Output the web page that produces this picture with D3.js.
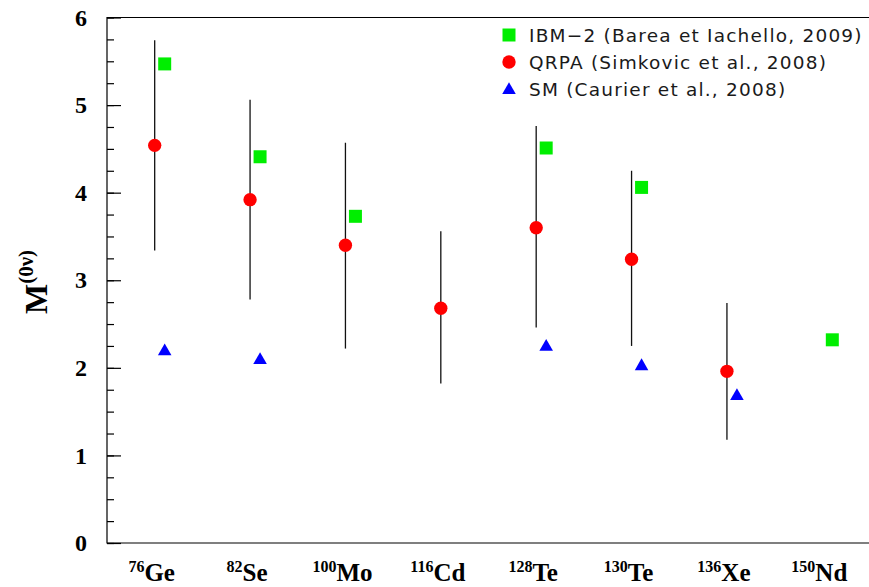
<!DOCTYPE html>
<html>
<head>
<meta charset="utf-8">
<script src="https://cdn.jsdelivr.net/npm/d3@7"></script>
<style>
  body { margin: 0; background: #fff; }
  svg { display: block; }
</style>
</head>
<body>
<div id="chart"></div>
<script>
(function(){
var width = 869,
    height = 587;

// nuclei along the x axis
var massNumbers = ["76", "82", "100", "116", "128", "130", "136", "150"];
var elements = ["Ge", "Se", "Mo", "Cd", "Te", "Te", "Xe", "Nd"];

// matrix elements, null where a model has no value
var ibm2 = [5.47, 4.41, 3.73, null, 4.51, 4.06, null, 2.32];
var qrpa = [4.54, 3.92, 3.40, 2.68, 3.60, 3.24, 1.96, null];
var qrpaLow = [3.34, 2.78, 2.22, 1.82, 2.46, 2.25, 1.18, null];
var qrpaHigh = [5.74, 5.06, 4.57, 3.56, 4.76, 4.25, 2.74, null];
var sm = [2.20, 2.10, null, null, 2.25, 2.03, 1.69, null];

var yTicks = [0, 1, 2, 3, 4, 5, 6];
var legendLabels = ["IBM\u22122 (Barea et Iachello, 2009)", "QRPA (Simkovic et al., 2008)", "SM (Caurier et al., 2008)"];

var green = "#00ee00", red = "#ff0000", blue = "#0000ff";

var svg = d3.select("#chart")
  .append("svg")
  .attr("width", width)
  .attr("height", height);

var x = d3.scaleLinear().domain([0.5, 8.5]).range([107, 870]);
var y = d3.scaleLinear().domain([0, 6]).range([543, 17.5]);
var offset = 10;

// frame
svg.append("path")
  .attr("d", "M" + x(8.5) + "," + y(6) + "H" + x(0.5) + "V" + y(0) + "H" + x(8.5))
  .attr("fill", "none")
  .attr("stroke", "#000")
  .attr("stroke-width", 1.2);

// minor ticks
var minor = svg.append("g")
  .attr("transform", "translate(" + x(0.5) + ",0)")
  .call(d3.axisLeft(y).tickValues(d3.range(0, 6.01, 0.25)).tickSize(-7).tickFormat(""));
minor.select(".domain").remove();

// major ticks + labels
var yAxis = svg.append("g")
  .attr("transform", "translate(" + x(0.5) + ",0)")
  .call(d3.axisLeft(y).tickValues(yTicks).tickSize(-14).tickPadding(20).tickFormat(d3.format("d")));
yAxis.select(".domain").remove();
yAxis.selectAll("text")
  .style("font-family", "'Liberation Serif', 'Times New Roman', serif")
  .style("font-weight", "bold")
  .style("font-size", "24px")
  .attr("fill", "#000");
svg.selectAll(".tick line").attr("stroke", "#000").attr("stroke-width", 1.2);

// y title
var yTitle = svg.append("text")
  .attr("transform", "translate(47,282) rotate(-90)")
  .attr("text-anchor", "middle")
  .style("font-family", "'Liberation Serif', 'Times New Roman', serif")
  .style("font-weight", "bold");
yTitle.append("tspan").style("font-size", "32px").text("M");
yTitle.append("tspan").style("font-size", "21px").attr("dy", -14).text("(0\u03bd)");

// x labels
var xl = svg.selectAll(".xlabel")
  .data(elements)
  .enter()
  .append("text")
  .attr("class", "xlabel")
  .attr("x", function(d, i) { return x(i + 1) - 3; })
  .attr("y", 581)
  .attr("text-anchor", "middle")
  .style("font-family", "'Liberation Serif', 'Times New Roman', serif")
  .style("font-weight", "bold");
xl.append("tspan")
  .style("font-size", "16px")
  .attr("dy", -9)
  .text(function(d, i) { return massNumbers[i]; });
xl.append("tspan")
  .style("font-size", "25px")
  .attr("dy", 9)
  .text(function(d) { return d; });

// QRPA error bars
var bars = d3.range(elements.length).filter(function(i) { return qrpa[i] != null; });
svg.selectAll(".err")
  .data(bars)
  .enter()
  .append("line")
  .attr("class", "err")
  .attr("x1", function(i) { return x(i + 1); })
  .attr("x2", function(i) { return x(i + 1); })
  .attr("y1", function(i) { return y(qrpaLow[i]); })
  .attr("y2", function(i) { return y(qrpaHigh[i]); })
  .attr("stroke", "#111")
  .attr("stroke-width", 1.3);

var square = d3.symbol().type(d3.symbolSquare).size(169);
var circle = d3.symbol().type(d3.symbolCircle).size(140);
var triangle = d3.symbol().type(d3.symbolTriangle).size(80);

function drawSeries(values, sym, color, dx, dy) {
  svg.append("g")
    .selectAll("path")
    .data(values.map(function(v, i) { return { i: i, v: v }; }).filter(function(d) { return d.v != null; }))
    .enter()
    .append("path")
    .attr("d", sym)
    .attr("transform", function(d) { return "translate(" + (x(d.i + 1) + dx) + "," + (y(d.v) + dy) + ")"; })
    .attr("fill", color);
}

drawSeries(ibm2, square, green, offset, 0);
drawSeries(qrpa, circle, red, 0, 0);
drawSeries(sm, triangle, blue, offset, 1);

// legend
var legend = svg.append("g");
var legendSyms = [square, circle, triangle];
var legendColors = [green, red, blue];
legendLabels.forEach(function(label, k) {
  var cy = 35 + k * 27;
  legend.append("path")
    .attr("d", legendSyms[k])
    .attr("transform", "translate(509," + (cy + (k == 2 ? 1 : 0)) + ")")
    .attr("fill", legendColors[k]);
  legend.append("text")
    .attr("x", 529)
    .attr("y", cy + 7)
    .style("font-family", "'DejaVu Sans', sans-serif")
    .style("font-size", "18.5px")
    .style("letter-spacing", "1.2px")
    .attr("fill", "#1a1a1a")
    .text(label);
});

})()
</script>
</body>
</html>
